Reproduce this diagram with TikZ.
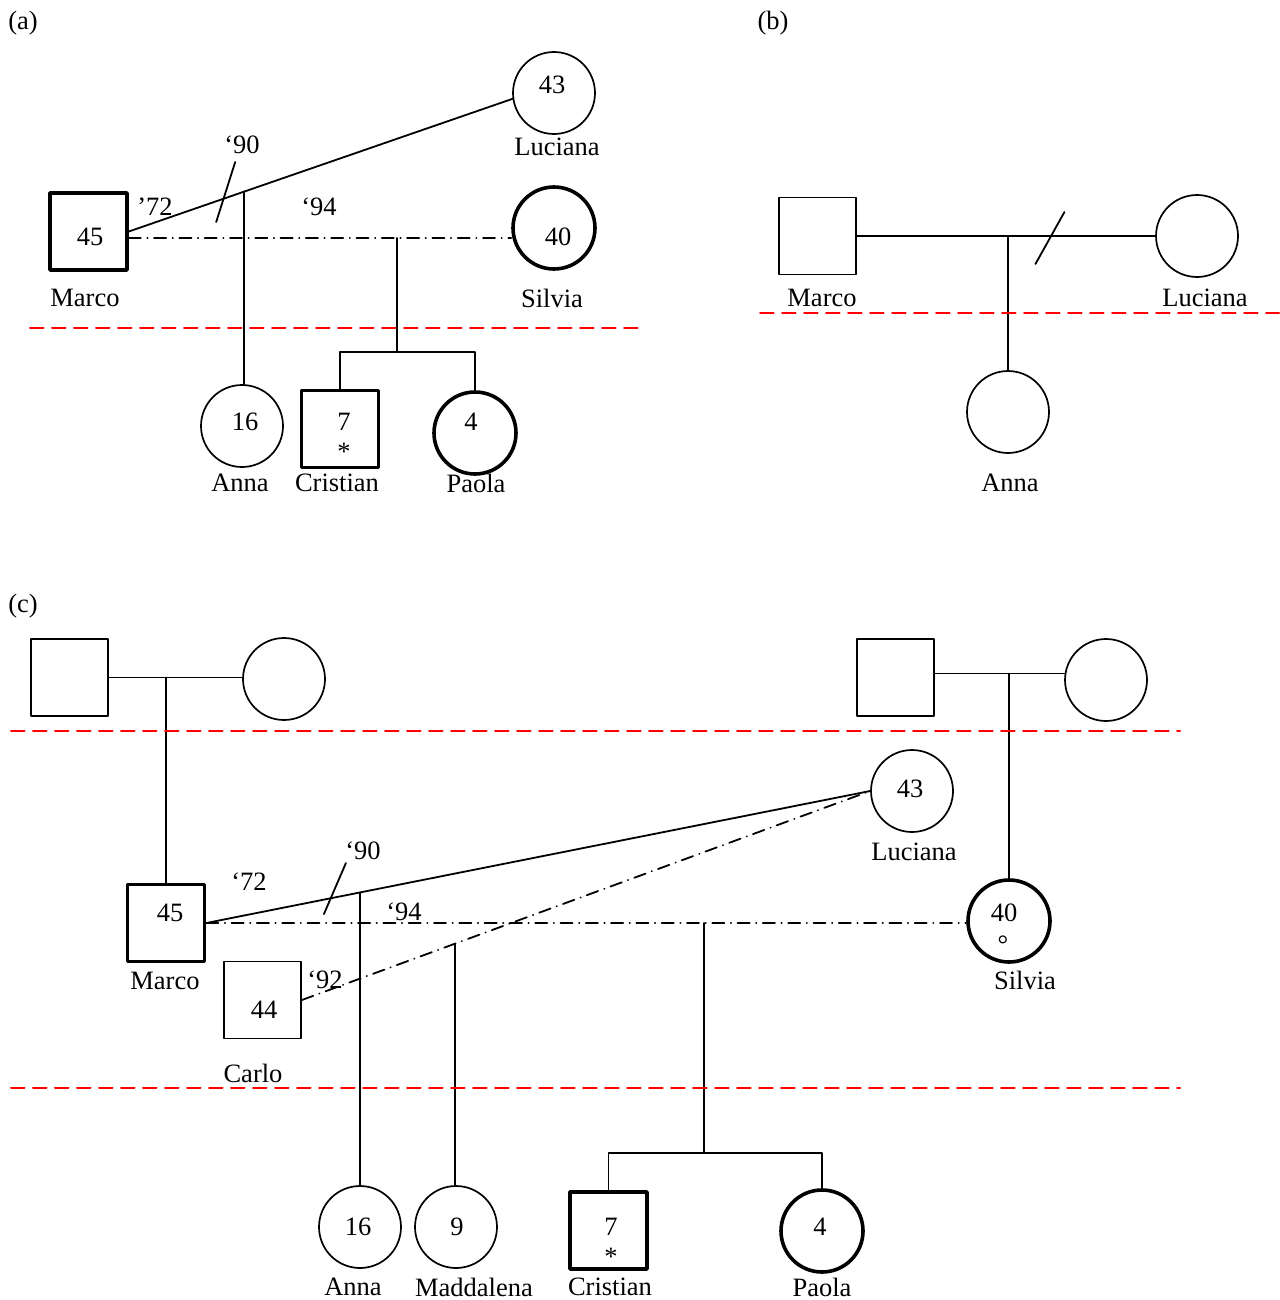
\documentclass[tikz,border=0pt]{standalone}
\usepackage{fontspec}
\setmainfont{Liberation Serif}
\usetikzlibrary{calc}
\tikzset{
  male/.style={draw,rectangle,minimum size=77pt,inner sep=0pt,line width=1.7pt},
  female/.style={draw,circle,minimum size=82pt,inner sep=0pt,line width=1.7pt},
  bold/.style={line width=3.6pt},
  link/.style={line width=1.8pt},
  dashdot/.style={line width=1.8pt,dash pattern=on 12pt off 6.5pt on 0.3pt off 6.5pt},
  gen/.style={red,line width=2pt,dash pattern=on 13.5pt off 8.5pt},
  txt/.style={inner sep=0pt}
}
\begin{document}
\begin{tikzpicture}[line cap=round,line join=round,x=1pt,y=-1pt,font=\fontsize{26.5}{30}\selectfont]
\useasboundingbox (0,0) rectangle (1279,1300);
\node[male,bold] (marcoA) at (88.5,231.5) {};
\node[female] (lucianaA) at (554,93) {};
\node[female,bold] (silviaA) at (554,228) {};
\node[female] (annaA) at (242,426) {};
\node[male,bold] (cristianA) at (340,429) {};
\node[female,bold] (paolaA) at (475,433) {};
\draw [link] (marcoA.east) -- (lucianaA.188);
\coordinate (divA) at ($(marcoA.east)!0.247!(lucianaA.188)$);
\draw [link] ($(divA)+(-7.4,23.3)$) -- ($(divA)+(11.6,-36.7)$);
\coordinate (annaTopA) at ($(marcoA.east)!0.3005!(lucianaA.188)$);
\draw [link] (annaTopA) -- (annaTopA |- annaA.north);
\draw [dashdot] ($(marcoA.east)+(0,6.5)$) coordinate (m1A) -- (m1A -| silviaA.west);
\coordinate (sibA) at ($(m1A)!0.702!(m1A -| silviaA.west)$);
\draw [link] (sibA) -- ++(0,114) coordinate (barA);
\draw [link] (cristianA.north) |- (barA) -| (paolaA.north);
\draw [gen] (30,328) -- (640,328);
\node[txt] (titA) at (23,23) {(a)};
\node[txt] (n45A) at (90,237) {45};
\node[txt] (n43A) at (552,85) {43};
\node[txt] (n40A) at (558,237) {40};
\node[txt] (n16A) at (245,422) {16};
\node[txt] (n7A) at (344,422) {7};
\node[txt] (starA) at (344,452) {*};
\node[txt] (n4A) at (471,422) {4};
\node[txt] (y72A) at (155,207) {’72};
\node[txt] (y90A) at (242,145) {‘90};
\node[txt] (y94A) at (319,207) {‘94};
\node[txt] (nameMarcoA) at (85,298) {Marco};
\node[txt] (nameLucianaA) at (557,147) {Luciana};
\node[txt] (nameSilviaA) at (552,298) {Silvia};
\node[txt] (nameAnnaA) at (240,483) {Anna};
\node[txt] (nameCristianA) at (337,483) {Cristian};
\node[txt] (namePaolaA) at (476,483) {Paola};
\node[male] (marcoB) at (817.5,236) {};
\node[female] (lucianaB) at (1197,236) {};
\node[female] (annaB) at (1008,412) {};
\draw [link] (marcoB.east) -- (lucianaB.west);
\draw [link] (annaB.north |- marcoB.east) -- (annaB.north);
\coordinate (divB) at ($(marcoB.east)!0.651!(lucianaB.west)$);
\draw [link] ($(divB)+(-15.6,28)$) -- ($(divB)+(13.4,-24)$);
\draw [gen] (760,313) -- (1279,313);
\node[txt] (titB) at (773,23) {(b)};
\node[txt] (nameMarcoB) at (822,298) {Marco};
\node[txt] (nameLucianaB) at (1205,298) {Luciana};
\node[txt] (nameAnnaB) at (1010,483) {Anna};
\node[male] (gpmL) at (69.5,677.5) {};
\node[female] (gpfL) at (284,679) {};
\node[male] (gpmR) at (895.5,677.5) {};
\node[female] (gpfR) at (1106,680) {};
\node[male,bold] (marcoC) at (166,923) {};
\node[male] (carloC) at (262.5,1000) {};
\node[female] (lucianaC) at (912,791) {};
\node[female,bold] (silviaC) at (1009,921) {};
\node[female] (annaC) at (360,1227) {};
\node[female] (maddalenaC) at (456,1227) {};
\node[male,bold] (cristianC) at (608.5,1230.5) {};
\node[female,bold] (paolaC) at (822,1231) {};
\draw [link] (gpmL.east) -- (gpmL.east -| gpfL.west);
\draw [link] (marcoC.north |- gpmL.east) -- (marcoC.north);
\draw [link] ($(gpmR.east)+(0,-4)$) coordinate (m0R) -- (m0R -| gpfR.west);
\draw [link] (silviaC.north |- m0R) -- (silviaC.north);
\draw [link] (marcoC.east) -- (lucianaC.west);
\coordinate (divC) at ($(marcoC.east)!0.1874!(lucianaC.west)$);
\draw [link] ($(divC)+(-6.8,15.8)$) -- ($(divC)+(15.2,-35.2)$);
\coordinate (annaTopC) at ($(marcoC.east)!0.2312!(lucianaC.west)$);
\draw [link] (annaTopC) -- (annaTopC |- annaC.north);
\draw [dashdot] (marcoC.east) -- (marcoC.east -| silviaC.west);
\draw [dashdot] (carloC.east) -- (lucianaC.west);
\coordinate (madTopC) at ($(carloC.east)!0.270!(lucianaC.west)$);
\draw [link] (madTopC) -- (madTopC |- maddalenaC.north);
\coordinate (sibC) at ($(marcoC.east)!0.655!(marcoC.east -| silviaC.west)$);
\draw [link] (sibC) -- ++(0,230) coordinate (barC);
\draw [link] (cristianC.north) |- (barC) -| (paolaC.north);
\draw [gen] (11,731) -- (1180,731);
\draw [gen] (11,1088) -- (1180,1088);
\node[txt] (titC) at (23,606) {(c)};
\node[txt] (n45C) at (170,913) {45};
\node[txt] (n44C) at (264,1010) {44};
\node[txt] (n43C) at (910,789) {43};
\node[txt] (n40C) at (1004,913) {40};
\node[txt] (ringC) at (1003,945) {°};
\node[txt] (n16C) at (358,1227) {16};
\node[txt] (n9C) at (457,1227) {9};
\node[txt] (n7C) at (611,1227) {7};
\node[txt] (starC) at (611,1257) {*};
\node[txt] (n4C) at (820,1227) {4};
\node[txt] (y72C) at (249,882) {‘72};
\node[txt] (y90C) at (363,851) {‘90};
\node[txt] (y94C) at (404,912) {‘94};
\node[txt] (y92C) at (325,980) {‘92};
\node[txt] (nameMarcoC) at (165,981) {Marco};
\node[txt] (nameCarloC) at (253,1073) {Carlo};
\node[txt] (nameLucianaC) at (914,852) {Luciana};
\node[txt] (nameSilviaC) at (1025,980) {Silvia};
\node[txt] (nameAnnaC) at (353,1287) {Anna};
\node[txt] (nameMaddalenaC) at (474,1287) {Maddalena};
\node[txt] (nameCristianC) at (610,1287) {Cristian};
\node[txt] (namePaolaC) at (822,1287) {Paola};
\end{tikzpicture}
\end{document}
